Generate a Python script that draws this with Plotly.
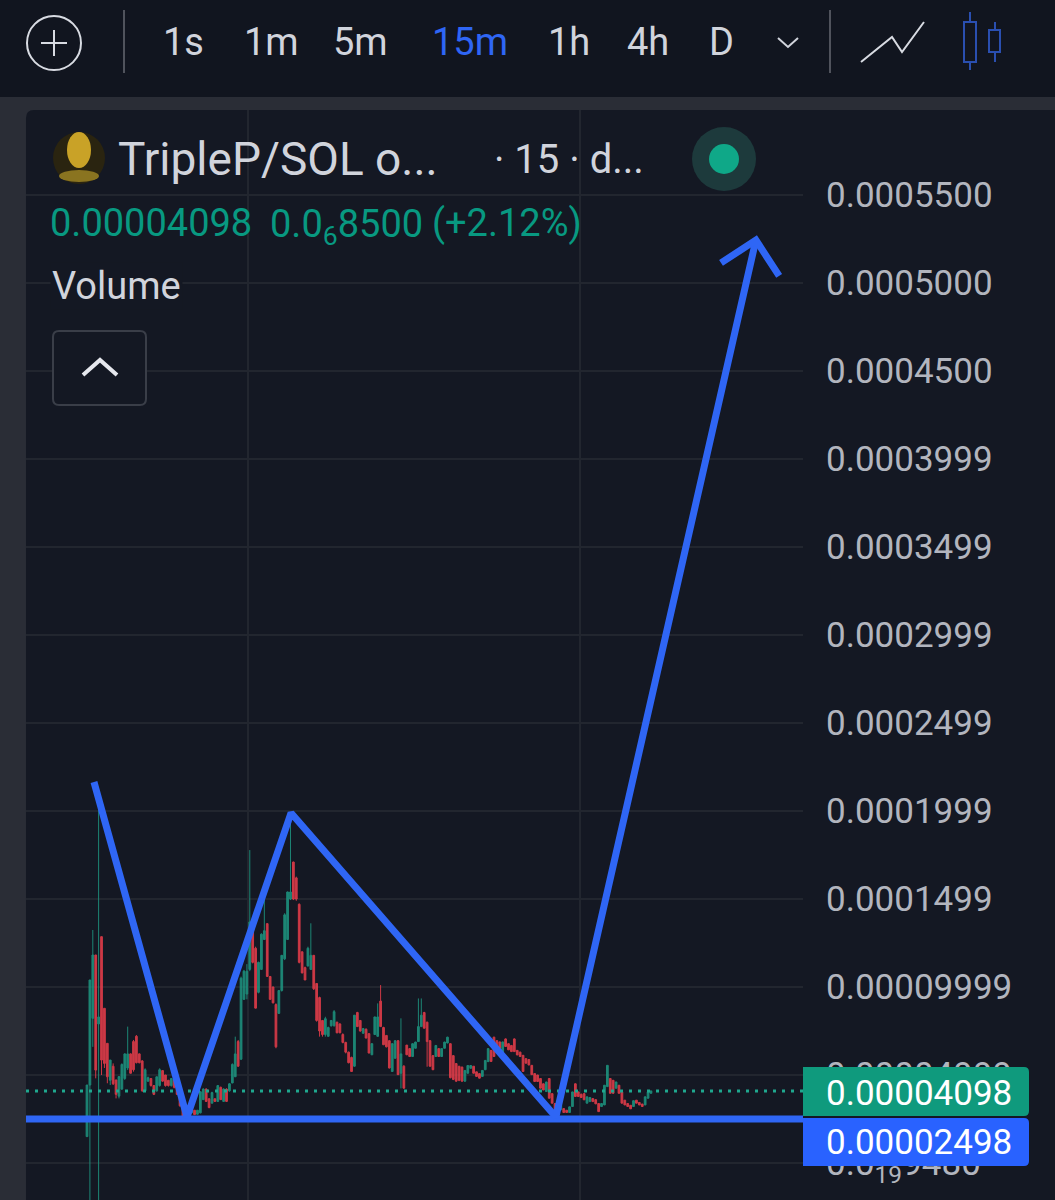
import plotly.graph_objects as go

W, H = 1055, 1200

# prices are in units of 1e-5 SOL, one candle per 15m
open_ = [1.5, 4.43, 8.22, 11.82, 7.9, 12.86, 8.79, 6.8, 4.7, 5.5,
         4.72, 3.8, 4.2, 4.8, 5.4, 6.2, 6.9, 7.2, 6.2, 5.8,
         4.1, 4.65, 4.8, 4.4, 4.1, 4.4, 5.25, 5.0, 4.7, 4.4,
         4.7, 4.3, 3.85, 3.35, 3.0, 2.65, 2.85, 3.0, 2.77, 2.85,
         3.6, 4.2, 3.65, 3.4, 3.65, 3.5, 4.3, 3.5, 4.2, 4.1,
         4.55, 4.9, 6.9, 5.9, 9.3, 9.6, 11.0, 13.7, 12.2, 9.7,
         11.0, 12.7, 13.6, 10.6, 10.0, 9.0, 8.5, 9.8, 11.6,
         12.7, 15.0, 17.1, 16.2, 14.7, 12.0, 11.1, 11.2, 11.0, 11.8,
         10.2, 9.4, 8.1, 7.3, 7.2, 7.8, 7.8, 8.0, 7.9,
         7.3, 6.85, 6.3, 6.0, 5.5, 8.55, 8.1, 7.37, 7.6, 7.35,
         6.15, 7.3, 7.2, 9.2, 7.7, 7.25, 6.95, 5.2, 5.95, 6.95,
         5.1, 5.5, 6.7, 6.5, 6.05, 6.52, 6.9, 7.75, 8.55, 8.0,
         6.95, 6.1, 6.05, 6.5, 6.05, 6.52, 6.82, 6.78, 6.1, 5.65, 5.5,
         5.45, 4.65, 5.1, 5.38, 5.5, 5.18, 5.08, 4.92, 5.3, 5.76,
         6.4, 7.15, 6.95, 6.88, 6.14, 7.05, 6.78, 6.68, 7.05, 6.4,
         6.3, 6.12, 5.93, 5.88, 5.55, 5.08, 5.0, 4.8, 4.5, 4.06,
         4.8, 3.94, 3.38, 2.65, 3.02, 3.09, 3.0, 2.87, 3.21, 4.5,
         4.04, 3.9, 3.94, 3.4, 3.49, 3.66, 3.6, 3.38, 3.21, 3.3, 4.34,
         4.8, 4.7, 4.25, 4.42, 4.04, 3.57, 3.38, 3.28, 3.21, 3.57,
         3.44, 3.35, 3.3, 3.68, 3.96]
high = [4.43, 10.4, 13.24, 11.82, 20.6, 12.86, 8.79, 6.8, 5.85, 5.66,
        4.72, 4.91, 5.66, 6.23, 7.75, 6.23, 6.99, 7.27, 6.23, 5.85,
        5.38, 4.91, 4.81, 4.43, 4.91, 5.38, 5.28, 5.0, 4.72, 4.81,
        4.72, 4.34, 3.86, 3.39, 3.01, 3.01, 3.2, 3.01, 3.01, 4.05,
        4.24, 4.24, 3.67, 4.05, 3.67, 4.43, 4.34, 4.24, 4.24, 4.53,
        5.66, 7.18, 6.99, 10.59, 10.97, 11.3, 17.78, 13.71, 12.29, 11.44,
        13.05, 14.94, 13.62, 10.59, 10.02, 9.07, 9.83, 11.82, 14.19,
        15.42, 19.87, 17.12, 16.27, 14.75, 12.01, 11.16, 12.29, 13.62, 11.82,
        10.21, 9.45, 8.12, 8.31, 7.75, 8.12, 8.69, 8.03, 7.94,
        7.37, 6.89, 6.33, 6.04, 8.4, 8.59, 8.12, 7.65, 7.65, 7.36,
        6.8, 8.31, 9.07, 10.11, 7.74, 7.27, 6.98, 6.8, 6.98, 6.98,
        8.22, 5.56, 6.7, 6.51, 6.8, 6.89, 9.35, 9.35, 8.59, 8.03,
        6.98, 6.13, 6.7, 6.51, 6.51, 6.89, 7.17, 6.8, 6.13, 5.66, 5.5,
        5.47, 5.28, 5.56, 5.56, 5.51, 5.19, 5.09, 5.28, 5.85, 6.51,
        6.42, 7.17, 6.98, 6.89, 6.89, 7.08, 6.8, 6.7, 7.08, 6.42,
        6.32, 6.13, 5.94, 5.89, 5.56, 5.09, 5.0, 4.81, 4.52, 4.62,
        4.81, 3.95, 3.39, 3.2, 3.29, 3.1, 3.01, 3.2, 4.05, 4.52,
        4.05, 3.95, 3.95, 3.77, 3.73, 3.67, 3.61, 3.39, 3.39, 4.43, 5.56,
        4.81, 4.71, 4.62, 4.43, 4.05, 3.58, 3.39, 3.29, 3.55, 3.58,
        3.45, 3.36, 3.77, 4.05, 4.1]
low = [1.5, -2.5, 6.6, 4.81, -2.5, 5.0, 5.4, 4.53, 4.43, 4.43,
       3.67, 3.67, 4.15, 4.72, 5.28, 5.09, 5.19, 5.66, 5.66, 4.05,
       4.05, 4.62, 4.34, 3.86, 4.05, 4.34, 4.62, 4.34, 4.34, 4.34,
       4.24, 3.86, 3.2, 2.63, 2.54, 2.63, 2.82, 2.73, 2.76, 2.82,
       3.58, 3.48, 3.11, 3.39, 3.48, 3.48, 3.58, 3.48, 3.48, 4.05,
       4.53, 4.91, 5.47, 5.85, 9.26, 9.3, 10.9, 11.34, 8.79, 9.64,
       10.97, 12.67, 10.59, 9.26, 9.07, 6.52, 8.5, 9.74, 11.53,
       12.67, 14.94, 14.94, 14.9, 11.34, 10.78, 10.4, 11.16, 10.97, 9.83,
       8.03, 7.18, 7.18, 7.18, 7.18, 7.75, 7.75, 7.37, 7.37,
       6.8, 6.23, 5.66, 5.19, 5.47, 7.74, 7.46, 7.36, 7.08, 6.23,
       6.13, 7.27, 7.17, 7.74, 6.7, 6.57, 5.37, 5.19, 5.94, 5.0,
       4.24, 4.24, 6.13, 6.04, 6.04, 6.51, 6.89, 7.74, 7.65, 5.47,
       5.47, 5.28, 6.04, 6.04, 6.04, 6.51, 6.8, 4.81, 4.71, 4.62, 4.65,
       4.62, 4.62, 5.09, 5.37, 5.09, 4.9, 4.81, 4.9, 5.28, 5.75,
       5.75, 6.04, 6.51, 6.51, 6.13, 6.61, 6.42, 6.32, 6.32, 6.13,
       6.04, 5.19, 5.66, 5.56, 5.0, 4.62, 4.62, 4.24, 4.14, 4.05,
       3.67, 3.39, 2.63, 2.63, 3.01, 2.86, 2.86, 2.86, 3.2, 3.77,
       3.77, 3.7, 3.58, 3.39, 3.48, 3.48, 3.35, 2.91, 3.2, 3.29, 4.33,
       3.95, 3.95, 4.24, 3.95, 3.39, 3.29, 3.2, 3.07, 3.2, 3.39,
       3.29, 3.2, 3.29, 3.67, 3.95]
close = [4.43, 10.4, 11.82, 5.28, 8.3, 5.85, 5.66, 4.9, 5.85, 4.5,
         3.9, 4.91, 5.6, 6.2, 6.2, 5.1, 5.3, 5.7, 5.7, 4.1,
         5.3, 4.85, 4.4, 3.9, 4.9, 5.3, 4.65, 4.4, 4.4, 4.8,
         4.3, 3.9, 3.25, 2.65, 2.6, 3.0, 3.2, 2.75, 3.0, 4.05,
         4.2, 3.5, 3.15, 4.0, 3.5, 4.4, 3.6, 4.2, 3.5, 4.5,
         5.6, 6.2, 5.5, 10.5, 10.9, 10.9, 13.7, 11.4, 8.8, 11.4,
         13.0, 13.2, 10.6, 9.3, 9.1, 6.6, 9.8, 11.8, 14.1,
         15.4, 15.4, 15.0, 15.0, 11.4, 10.8, 10.4, 12.2, 11.8, 9.9,
         8.1, 7.5, 7.3, 8.2, 7.7, 8.1, 8.6, 7.4, 7.4,
         6.85, 6.3, 5.7, 5.2, 8.4, 7.75, 7.5, 7.64, 7.1, 6.25,
         6.78, 8.3, 8.3, 7.75, 6.72, 6.6, 5.4, 6.78, 6.95, 5.02,
         6.2, 4.25, 6.15, 6.05, 6.78, 6.87, 7.75, 8.4, 7.66, 6.9,
         5.5, 5.3, 6.68, 6.05, 6.5, 6.87, 7.15, 4.85, 4.75, 4.65, 4.7,
         4.65, 5.26, 5.54, 5.54, 5.1, 4.92, 4.82, 5.26, 5.83, 6.5,
         5.77, 6.05, 6.52, 6.52, 6.88, 6.62, 6.43, 6.33, 6.33, 6.14,
         6.05, 5.2, 5.67, 5.57, 5.02, 4.63, 4.63, 4.25, 4.15, 4.6,
         3.68, 3.4, 2.65, 3.19, 3.28, 2.87, 2.87, 3.19, 4.04, 3.78,
         3.78, 3.72, 3.59, 3.76, 3.72, 3.49, 3.36, 2.92, 3.38, 4.42, 5.55,
         3.96, 3.96, 4.6, 3.96, 3.4, 3.3, 3.21, 3.08, 3.54, 3.4,
         3.3, 3.21, 3.76, 4.04, 4.098]

tick_vals = [55, 50, 45, 40, 35, 30, 25, 20, 15, 10, 5, 0]
tick_text = ["0.0005500", "0.0005000", "0.0004500", "0.0003999", "0.0003499", "0.0002999",
             "0.0002499", "0.0001999", "0.0001499", "0.00009999", "0.00004999", "0.0<sub>19</sub>9480"]
time_ticks = [55.4, 169.6]

last_price = 4.098
base_price = 2.498

# hand drawn blue lines on top of the candles
zigzag_x = [2.4, 34.4, 70.2, 161.3, 230.1]
zigzag_y = [21.65, 2.61, 19.89, 2.61, 52.44]
arrow_x = [218.1, 230.1, 238.1]
arrow_y = [51.14, 52.44, 50.4]

intervals = ["1s", "1m", "5m", "15m", "1h", "4h", "D"]
interval_x = [183, 271, 360, 470, 569, 648, 721]

BG_TOP = "#11151f"
BG_STRIP = "#2a2d36"
BG_PANEL = "#141823"
GRID = "#22262f"
TEXT = "#d1d4dc"
AXIS_TEXT = "#b2b5be"
GREEN = "#089981"
CANDLE_GREEN = "#1f9a84"
CANDLE_RED = "#ee3f4c"
BLUE = "#2f66f5"
FONT = "Roboto"


def fx(px):
    return px / W


def fy(py):
    return 1 - py / H


def rect(x0, y0, x1, y1, fill, line=None, width=1):
    return dict(type="rect", xref="paper", yref="paper", x0=fx(x0), x1=fx(x1), y0=fy(y0), y1=fy(y1),
                fillcolor=fill, line=dict(color=line or fill, width=width if line else 0), layer="below")


def circle(cx, cy, rx, ry, fill, line=None, width=1, layer="below"):
    return dict(type="circle", xref="paper", yref="paper", x0=fx(cx - rx), x1=fx(cx + rx), y0=fy(cy - ry), y1=fy(cy + ry),
                fillcolor=fill, line=dict(color=line or fill, width=width if line else 0), layer=layer)


def poly(points, color, width=2, layer="below"):
    path = "M " + " L ".join(f"{fx(x):.5f},{fy(y):.5f}" for x, y in points)
    return dict(type="path", xref="paper", yref="paper", path=path, fillcolor="rgba(0,0,0,0)",
                line=dict(color=color, width=width), layer=layer)


def rounded(x0, y0, x1, y1, r, fill, line=None, left_round=True, layer="below"):
    # rounded box, the price tags keep a square left edge
    rl = r if left_round else 0
    path = (f"M {fx(x0 + rl):.5f},{fy(y0):.5f} L {fx(x1 - r):.5f},{fy(y0):.5f} "
            f"Q {fx(x1):.5f},{fy(y0):.5f} {fx(x1):.5f},{fy(y0 + r):.5f} "
            f"L {fx(x1):.5f},{fy(y1 - r):.5f} Q {fx(x1):.5f},{fy(y1):.5f} {fx(x1 - r):.5f},{fy(y1):.5f} "
            f"L {fx(x0 + rl):.5f},{fy(y1):.5f} Q {fx(x0):.5f},{fy(y1):.5f} {fx(x0):.5f},{fy(y1 - rl):.5f} "
            f"L {fx(x0):.5f},{fy(y0 + rl):.5f} Q {fx(x0):.5f},{fy(y0):.5f} {fx(x0 + rl):.5f},{fy(y0):.5f} Z")
    return dict(type="path", xref="paper", yref="paper", path=path, fillcolor=fill,
                line=dict(color=line or fill, width=2 if line else 0), layer=layer)


def label(text, x, y, size, color=TEXT, anchor="left", bg=None):
    return dict(text=text, x=fx(x), y=fy(y), xref="paper", yref="paper", showarrow=False,
                xanchor=anchor, yanchor="middle", bgcolor=bg, font=dict(family=FONT, size=size, color=color))


fig = go.Figure()
fig.add_trace(go.Candlestick(
    x=list(range(len(close))), open=open_, high=high, low=low, close=close,
    increasing=dict(line=dict(color=CANDLE_GREEN, width=1), fillcolor=CANDLE_GREEN),
    decreasing=dict(line=dict(color=CANDLE_RED, width=1), fillcolor=CANDLE_RED),
    whiskerwidth=0, opacity=0.85, hoverinfo="skip"))

range_x = [-20.98, 246.3]
fig.add_trace(go.Scatter(x=range_x, y=[last_price, last_price], mode="lines",
                         line=dict(color="#1fa88f", width=3, dash="3px 6px"), hoverinfo="skip"))
fig.add_trace(go.Scatter(x=range_x, y=[base_price, base_price], mode="lines",
                         line=dict(color=BLUE, width=7), hoverinfo="skip"))
fig.add_trace(go.Scatter(x=zigzag_x, y=zigzag_y, mode="lines",
                         line=dict(color=BLUE, width=7), hoverinfo="skip"))
fig.add_trace(go.Scatter(x=arrow_x, y=arrow_y, mode="lines",
                         line=dict(color=BLUE, width=7), hoverinfo="skip"))

shapes = [
    rect(0, 0, W, 97, BG_TOP),
    rounded(26, 110, W + 10, H + 10, 8, BG_PANEL),
    # toolbar icons
    circle(54, 43, 27, 27, "rgba(0,0,0,0)", "#d8dbe2", 2),
    poly([(54, 30), (54, 56)], "#d8dbe2"),
    poly([(41, 43), (67, 43)], "#d8dbe2"),
    poly([(124, 10), (124, 73)], "#50535c"),
    poly([(830, 10), (830, 73)], "#50535c"),
    poly([(778, 38), (788, 47), (798, 38)], "#d1d4dc"),
    poly([(861, 62), (892, 37), (902, 52), (924, 22)], "#d8dbe2"),
    poly([(970, 12), (970, 70)], "#2a4fb0"),
    rect(964, 22, 976, 62, BG_TOP, "#2a4fb0", 2),
    poly([(995, 22), (995, 62)], "#2a4fb0"),
    rect(989, 30, 1000, 52, BG_TOP, "#2a4fb0", 2),
    # logo of the token
    circle(79, 158, 26, 26, "#2a2410"),
    circle(79, 150, 12, 18, "#c9a227"),
    circle(79, 176, 20, 6, "#8a7420"),
    # live dot
    circle(724, 159, 32, 32, "#1d3a3c"),
    circle(724, 159, 15, 15, "#0fa888"),
    # collapse button hides the grid behind it
    rounded(53, 331, 146, 405, 6, BG_PANEL, "#3a3e48", layer="above"),
    poly([(83, 375), (100, 360), (117, 375)], "#e6e8ee", 4, layer="above"),
    # price tags cover the axis labels
    rounded(803, 1067, 1029, 1116, 5, "#0f9a7d", left_round=False, layer="above"),
    rounded(803, 1118, 1029, 1166, 5, "#2962ff", left_round=False, layer="above"),
]

annotations = [label(t, x, 42, 38, BLUE if t == "15m" else TEXT, "center") for t, x in zip(intervals, interval_x)]
annotations += [
    label("TripleP/SOL o...", 116, 159, 46),
    label("· 15 · d...", 492, 159, 40),
    label("0.00004098", 48, 223, 38, GREEN),
    label("0.0<sub>6</sub>8500", 268, 226, 38, GREEN),
    label("(+2.12%)", 430, 223, 38, GREEN),
    label("Volume", 50, 286, 38, bg=BG_PANEL),
    label("0.00004098", 824, 1093, 35, "#ffffff"),
    label("0.00002498", 824, 1142, 35, "#ffffff"),
]

fig.update_layout(
    width=W, height=H, margin=dict(l=0, r=0, t=0, b=0),
    paper_bgcolor=BG_STRIP, plot_bgcolor="rgba(0,0,0,0)",
    showlegend=False, hovermode=False, boxgap=0.15,
    shapes=shapes, annotations=annotations,
    font=dict(family=FONT),
    xaxis=dict(domain=[fx(26), fx(803)], range=range_x, rangeslider=dict(visible=False),
               tickvals=time_ticks, showticklabels=False, ticks="", showgrid=True, gridcolor=GRID,
               gridwidth=2, zeroline=False, showline=False),
    yaxis=dict(domain=[0, fy(110)], range=[-2.102, 59.83], side="right", tickvals=tick_vals, ticktext=tick_text,
               tickfont=dict(family=FONT, size=35, color=AXIS_TEXT), ticks="", ticklabelstandoff=22,
               showgrid=True, gridcolor=GRID, gridwidth=2, zeroline=False, showline=False),
)

fig.write_html("out.html", config={"displayModeBar": False},
               post_script="document.body.style.margin='0';")
